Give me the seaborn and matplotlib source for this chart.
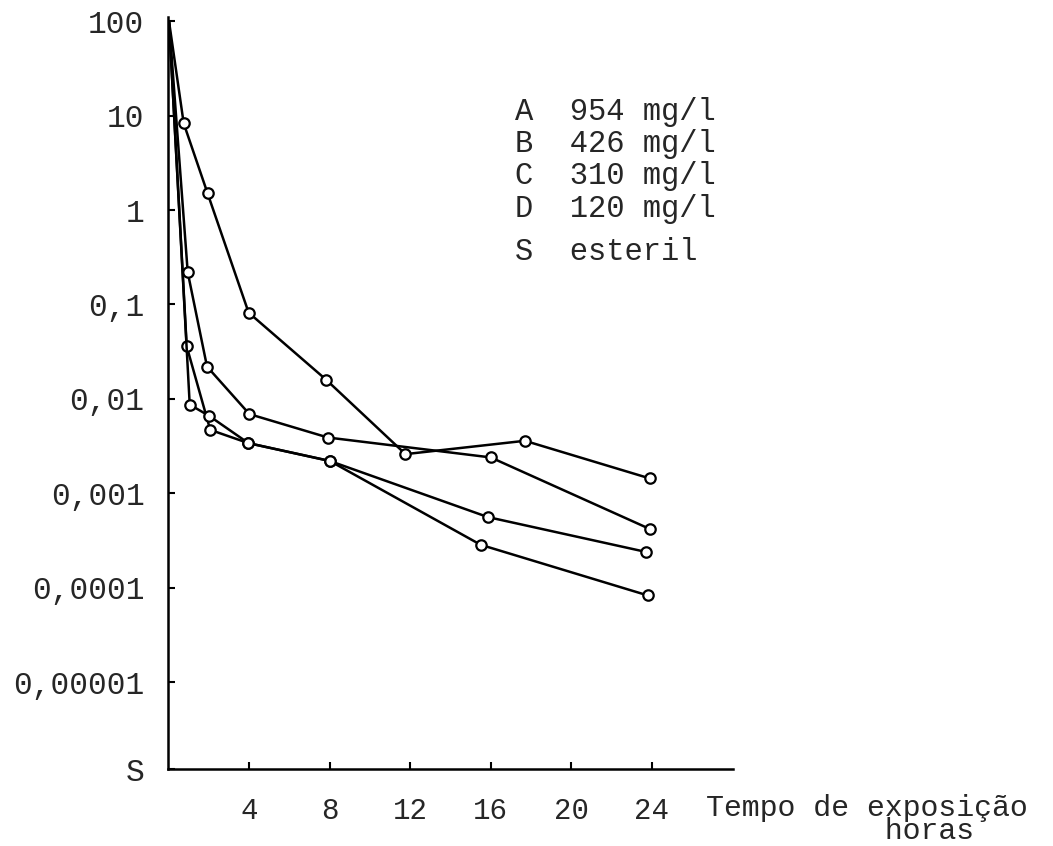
import numpy as np
import pandas as pd
import matplotlib
matplotlib.use("Agg")
import matplotlib.pyplot as plt
import seaborn as sns

# ---- data (hours, survivors) ----
t_A = [0, 0.73, 1.92, 3.96, 7.81, 11.76, 17.7, 23.9]
v_A = [100, 8.3, 1.5, 0.082, 0.016, 0.0026, 0.0036, 0.00144]

t_B = [0, 0.93, 1.89, 4.0, 7.9, 16.0, 23.9]
v_B = [100, 0.22, 0.022, 0.0069, 0.0039, 0.0024, 0.00042]

t_C = [0, 0.88, 2.05, 3.95, 8.0, 15.86, 23.7]
v_C = [100, 0.036, 0.0047, 0.0034, 0.0022, 0.00056, 0.00024]

t_D = [0, 1.03, 2.0, 3.95, 8.0, 15.5, 23.8]
v_D = [100, 0.0087, 0.0066, 0.0034, 0.0022, 0.000285, 0.000083]

series = {"A": (t_A, v_A), "B": (t_B, v_B), "C": (t_C, v_C), "D": (t_D, v_D)}

x_ticks = [4, 8, 12, 16, 20, 24]
x_ticklabels = ["4", "8", "12", "16", "20", "24"]
y_ticks = [100, 10, 1, 0.1, 0.01, 0.001, 0.0001, 0.00001]
y_ticklabels = ["100", "10", "1", "0,1", "0,01", "0,001", "0,0001", "0,00001"]

legend_lines = ["A  954 mg/l", "B  426 mg/l", "C  310 mg/l", "D  120 mg/l"]
legend_sterile = "S  esteril"
xlabel_text = "Tempo de exposição\n          horas"

# ---- figure ----
sns.set_style("ticks")
plt.rcParams["font.family"] = ["Liberation Mono", "DejaVu Sans Mono"]

fig = plt.figure(figsize=(10.53, 8.46), dpi=100)
ax = fig.add_axes([168 / 1053, 1 - 769 / 846, (733 - 168) / 1053, (769 - 17) / 846])

for name, (tt, vv) in series.items():
    df = pd.DataFrame({"t": tt, "v": vv})
    sns.lineplot(data=df, x="t", y="v", ax=ax, color="black", linewidth=1.8,
                 marker="o", markersize=7.5, markerfacecolor="white",
                 markeredgecolor="black", markeredgewidth=1.6,
                 markevery=list(range(1, len(tt))), estimator=None, sort=False,
                 solid_joinstyle="round")

ax.set_yscale("log")
y_bottom = 10 ** (-5.92)
ax.set_ylim(y_bottom, 10 ** 2.045)
ax.set_xlim(-0.05, 28.05)

ax.set_xticks(x_ticks)
ax.set_xticklabels(x_ticklabels, fontsize=21)
ax.set_yticks(y_ticks + [y_bottom])
ax.set_yticklabels(y_ticklabels + ["S"], fontsize=22.5)
ax.yaxis.set_minor_locator(matplotlib.ticker.NullLocator())

ax.tick_params(axis="both", direction="in", length=5, width=1.5, color="black")
ax.tick_params(axis="x", pad=20)
ax.tick_params(axis="y", pad=17)
ax.set_xlabel("")
ax.set_ylabel("")

for s in ["top", "right"]:
    ax.spines[s].set_visible(False)
for s in ["left", "bottom"]:
    ax.spines[s].set_linewidth(1.8)
    ax.spines[s].set_color("black")

# legend text block
for i, line in enumerate(legend_lines):
    fig.text(515 / 1053, 1 - (112 + 32.2 * i) / 846, line, fontsize=22,
             ha="left", va="center")
fig.text(515 / 1053, 1 - 252 / 846, legend_sterile, fontsize=22,
         ha="left", va="center")

# x-axis label (two lines, one text)
fig.text(706 / 1053, 1 - 794 / 846, xlabel_text, fontsize=21.5, ha="left",
         va="top", linespacing=0.76)

fig.savefig("out.png", dpi=100)
